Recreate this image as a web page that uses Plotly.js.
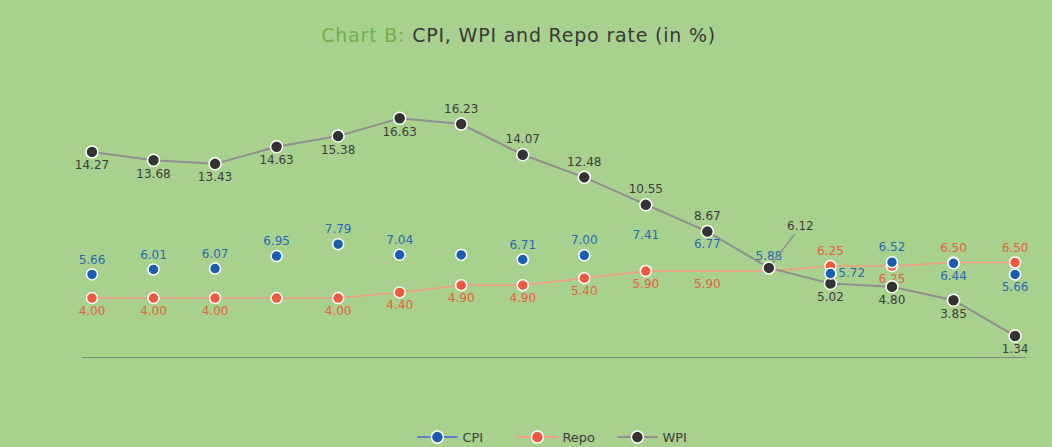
<!DOCTYPE html>
<html>
<head>
<meta charset="utf-8">
<script src="https://cdn.plot.ly/plotly-3.0.1.min.js"></script>
<style>html,body{margin:0;padding:0;background:#A9D18E;}#chart{width:1052px;height:447px;}</style>
</head>
<body>
<div id="chart"></div>
<script>
// Periods (16 observations; the chart shows no x tick labels)
const periods = ['P1','P2','P3','P4','P5','P6','P7','P8','P9','P10','P11','P12','P13','P14','P15','P16'];
const cpi  = [5.66, 6.01, 6.07, 6.95, 7.79, 7.04, 7.03, 6.71, 7.00, 7.41, 6.77, 5.88, 5.72, 6.52, 6.44, 5.66];
const repo = [4.00, 4.00, 4.00, 4.00, 4.00, 4.40, 4.90, 4.90, 5.40, 5.90, 5.90, 5.90, 6.25, 6.25, 6.50, 6.50];
const wpi  = [14.27, 13.68, 13.43, 14.63, 15.38, 16.63, 16.23, 14.07, 12.48, 10.55, 8.67, 6.12, 5.02, 4.80, 3.85, 1.34];

// label display (which points show a label in the original)
const cpiShow  = [1,1,1,1,1,1,0,1,1,1,1,1,1,1,1,1];
const repoShow = [1,1,1,0,1,1,1,1,1,1,1,0,1,1,1,1];
const wpiShow  = [1,1,1,1,1,1,1,1,1,1,1,0,1,1,1,1];

const cpiPos  = ['top center','top center','top center','top center','top center','top center','top center','top center','top center','top center','top center','top center','middle right','top center','bottom center','bottom center'];
const repoPos = ['bottom center','bottom center','bottom center','bottom center','bottom center','bottom center','bottom center','bottom center','bottom center','bottom center','bottom center','bottom center','top center','bottom center','top center','top center'];
const wpiPos  = ['bottom center','bottom center','bottom center','bottom center','bottom center','bottom center','top center','top center','top center','top center','top center','top center','bottom center','bottom center','bottom center','bottom center'];

const cpiOpacity  = [1,1,1,1,1,1,1,1,1,0,0,0,1,1,1,1];
const repoOpacity = [1,1,1,1,1,1,1,1,1,1,0,0,1,1,1,1];

const fmt = (v, s) => s ? v.toFixed(2) : '';

const FONT = 'DejaVu Sans, sans-serif';
const C_CPI = '#1B5EB0', C_REPO = '#EE5A3E', C_WPI = '#333333';
const L_CPI = '#5B7FCB', L_REPO = '#F49A85', L_WPI = '#8E8E8E';
const markerLine = {color: '#FFFFFF', width: 1.5};
const labelFont = (c) => ({family: FONT, size: 12, color: c});

const traces = [
  // legend entries
  {x: [null], y: [null], name: 'CPI', mode: 'lines+markers', line: {color: L_CPI, width: 2},
   marker: {color: C_CPI, size: 12, line: markerLine}, legendgroup: 'cpi', hoverinfo: 'skip'},
  {x: [null], y: [null], name: 'Repo', mode: 'lines+markers', line: {color: L_REPO, width: 2},
   marker: {color: C_REPO, size: 12, line: markerLine}, legendgroup: 'repo', hoverinfo: 'skip'},
  {x: [null], y: [null], name: 'WPI', mode: 'lines+markers', line: {color: L_WPI, width: 2},
   marker: {color: C_WPI, size: 12, line: markerLine}, legendgroup: 'wpi', hoverinfo: 'skip'},
  // data
  {x: periods, y: repo, mode: 'lines+markers+text', showlegend: false, legendgroup: 'repo',
   line: {color: L_REPO, width: 1.5},
   marker: {color: C_REPO, size: 11, line: markerLine, opacity: repoOpacity},
   text: repo.map((v, i) => fmt(v, repoShow[i])), textposition: repoPos,
   textfont: labelFont('#E4603F'), cliponaxis: false},
  {x: periods, y: wpi, mode: 'lines+markers+text', showlegend: false, legendgroup: 'wpi',
   line: {color: L_WPI, width: 2},
   marker: {color: C_WPI, size: 12, line: markerLine},
   text: wpi.map((v, i) => fmt(v, wpiShow[i])), textposition: wpiPos,
   textfont: labelFont('#3C3C3C'), cliponaxis: false},
  {x: periods, y: cpi, mode: 'markers+text', showlegend: false, legendgroup: 'cpi',
   marker: {color: C_CPI, size: 11, line: markerLine, opacity: cpiOpacity},
   text: cpi.map((v, i) => fmt(v, cpiShow[i])), textposition: cpiPos,
   textfont: labelFont('#2A67B3'), cliponaxis: false}
];

const layout = {
  width: 1052, height: 447,
  paper_bgcolor: '#A9D18E', plot_bgcolor: '#A9D18E',
  margin: {l: 82, r: 26, t: 85, b: 90},
  title: {
    text: '<span style="color:#6FAF4C;letter-spacing:0.8px">Chart B: </span><span style="color:#383838;letter-spacing:0.8px">CPI, WPI and Repo rate (in %)</span>',
    font: {family: FONT, size: 19, color: '#383838'},
    x: 0.493, xanchor: 'center', y: 0.921, yanchor: 'middle', xref: 'container', yref: 'container'
  },
  xaxis: {
    type: 'category', range: [-0.162, 15.178], showgrid: false, zeroline: false,
    showline: true, linecolor: '#7F8C7A', linewidth: 1, showticklabels: false, ticks: ''
  },
  yaxis: {
    range: [-0.14, 18.97], showgrid: false, zeroline: false, showline: false,
    showticklabels: false, ticks: ''
  },
  showlegend: true,
  legend: {
    orientation: 'h', x: 0.392, xanchor: 'left', xref: 'container',
    y: 0.022, yanchor: 'middle', yref: 'container',
    font: {family: FONT, size: 13, color: '#404040'},
    bgcolor: 'rgba(0,0,0,0)', itemwidth: 40, entrywidth: 45
  },
  annotations: [{
    x: periods[11], y: wpi[11], text: wpi[11].toFixed(2),
    showarrow: true, arrowhead: 0, arrowwidth: 1.5, arrowcolor: '#8E8E8E',
    ax: 32, ay: -42, font: labelFont('#3C3C3C'), standoff: 6
  }]
};

Plotly.newPlot('chart', traces, layout, {displayModeBar: false, staticPlot: true});
</script>
</body>
</html>
